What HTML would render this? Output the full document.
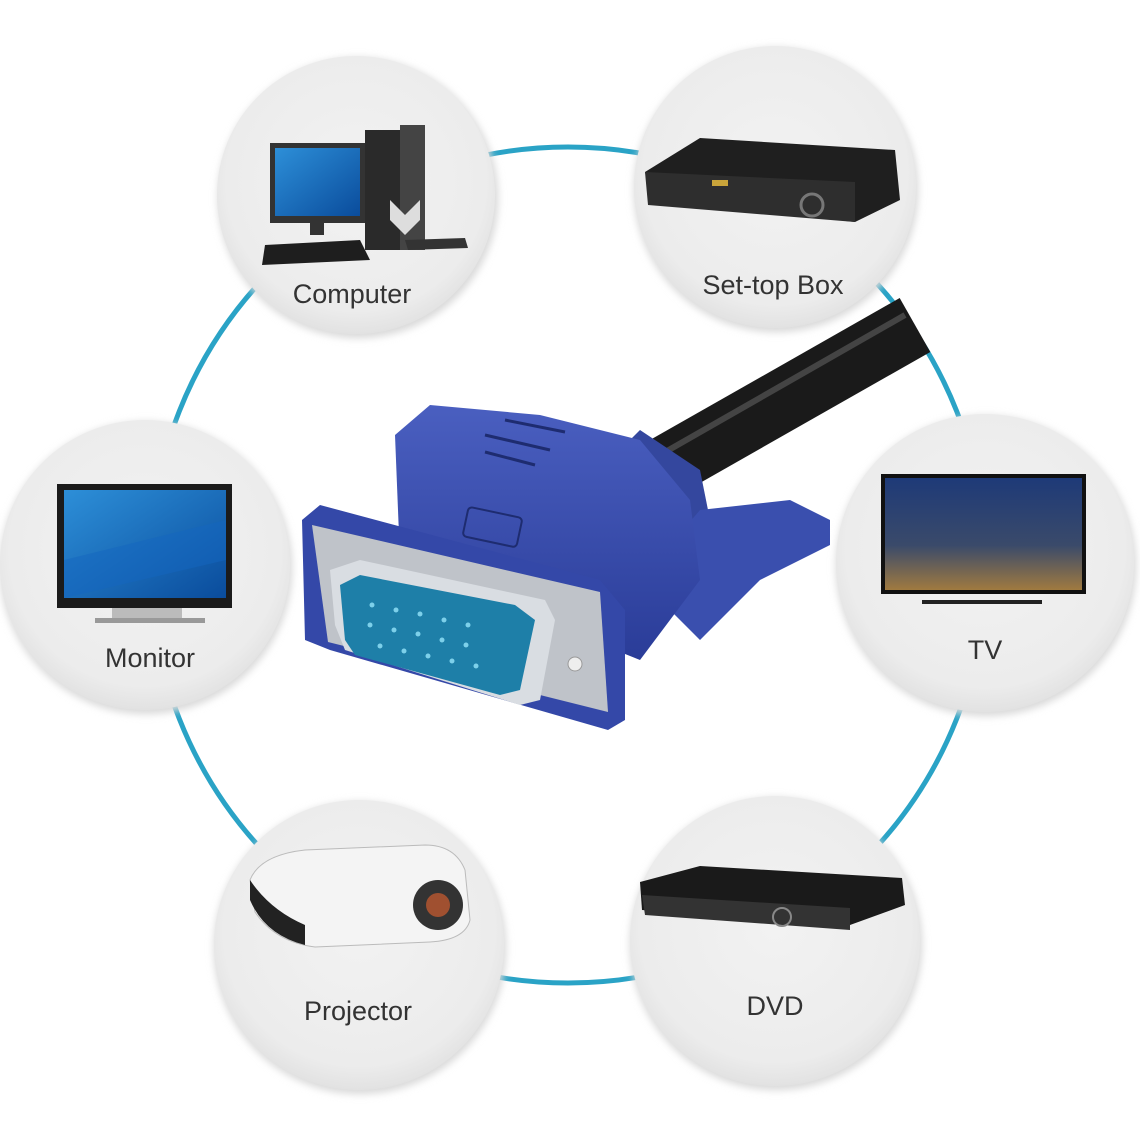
<!DOCTYPE html>
<html><head><meta charset="utf-8"><style>
html,body{margin:0;padding:0;background:#fff;}
svg{display:block;}
text{font-family:"Liberation Sans",sans-serif;fill:#333;text-anchor:middle;}
</style></head><body>
<svg width="1140" height="1140" viewBox="0 0 1140 1140" xmlns="http://www.w3.org/2000/svg">
<defs>
<radialGradient id="cg" cx="50%" cy="45%" r="55%">
<stop offset="0%" stop-color="#f2f2f2"/><stop offset="85%" stop-color="#ececec"/><stop offset="100%" stop-color="#e2e2e2"/>
</radialGradient>
<filter id="sh" x="-20%" y="-20%" width="140%" height="140%"><feGaussianBlur stdDeviation="4"/></filter>
<linearGradient id="scr" x1="0" y1="0" x2="1" y2="1"><stop offset="0" stop-color="#2d8fd8"/><stop offset="1" stop-color="#0a4c9c"/></linearGradient>
<linearGradient id="tv" x1="0" y1="0" x2="0" y2="1"><stop offset="0" stop-color="#1e3a78"/><stop offset="0.6" stop-color="#3a4a6a"/><stop offset="1" stop-color="#a07a40"/></linearGradient>
<linearGradient id="blu" x1="0" y1="0" x2="0" y2="1"><stop offset="0" stop-color="#4a5fc0"/><stop offset="1" stop-color="#2a3c98"/></linearGradient>
</defs>
<!-- ring -->
<circle cx="568" cy="565" r="418" fill="none" stroke="#2aa3c6" stroke-width="5"/>
<!-- circles -->
<g>
<circle cx="358" cy="198" r="140" fill="#d8d8d8" filter="url(#sh)"/>
<circle cx="776" cy="190" r="142" fill="#d8d8d8" filter="url(#sh)"/>
<circle cx="146" cy="568" r="146" fill="#d8d8d8" filter="url(#sh)"/>
<circle cx="986" cy="566" r="150" fill="#d8d8d8" filter="url(#sh)"/>
<circle cx="360" cy="948" r="146" fill="#d8d8d8" filter="url(#sh)"/>
<circle cx="776" cy="944" r="146" fill="#d8d8d8" filter="url(#sh)"/>
</g>
<circle cx="356" cy="195" r="139" fill="url(#cg)"/>
<circle cx="775" cy="187" r="141" fill="url(#cg)"/>
<circle cx="145" cy="565" r="145" fill="url(#cg)"/>
<circle cx="985" cy="563" r="149" fill="url(#cg)"/>
<circle cx="359" cy="945" r="145" fill="url(#cg)"/>
<circle cx="775" cy="941" r="145" fill="url(#cg)"/>

<!-- computer -->
<rect x="270" y="143" width="95" height="80" fill="#333"/>
<rect x="275" y="148" width="85" height="68" fill="url(#scr)"/>
<rect x="310" y="223" width="14" height="12" fill="#333"/>
<rect x="365" y="162" width="0" height="0"/>
<polygon points="366,176 366,176 366,176" fill="#222"/>
<rect x="365" y="130" width="60" height="120" fill="#2a2a2a"/>
<rect x="400" y="125" width="25" height="125" fill="#444"/>
<path d="M390 200 l15 15 l15 -15 v20 l-15 15 l-15 -15z" fill="#ddd"/>
<polygon points="265,245 360,240 370,260 262,265" fill="#1e1e1e"/>
<polygon points="405,240 465,238 468,248 408,250" fill="#333"/>
<text x="352" y="303" font-size="27">Computer</text>

<!-- set-top box -->
<polygon points="645,172 700,138 895,150 900,200 855,222 652,200" fill="#1f1f1f"/>
<polygon points="645,172 855,182 855,222 648,205" fill="#2e2e2e"/>
<circle cx="812" cy="205" r="11" fill="none" stroke="#777" stroke-width="3"/>
<rect x="712" y="180" width="16" height="6" fill="#c9a43a"/>
<text x="773" y="294" font-size="27">Set-top Box</text>

<!-- monitor -->
<rect x="57" y="484" width="175" height="124" fill="#1b1b1b"/>
<rect x="64" y="490" width="162" height="108" fill="url(#scr)"/>
<polygon points="64,560 226,520 226,560 64,598" fill="#1466c0" opacity="0.5"/>
<rect x="112" y="608" width="70" height="10" fill="#bbb"/>
<rect x="95" y="618" width="110" height="5" fill="#999"/>
<text x="150" y="667" font-size="27">Monitor</text>

<!-- TV -->
<rect x="881" y="474" width="205" height="120" fill="#111"/>
<rect x="885" y="478" width="197" height="112" fill="url(#tv)"/>
<rect x="922" y="600" width="120" height="4" fill="#222"/>
<text x="985" y="659" font-size="27">TV</text>

<!-- projector -->
<path d="M250 880 q10 -25 55 -30 l120 -5 q30 0 40 25 l5 50 q-5 20 -40 22 l-115 5 q-40 -5 -60 -35z" fill="#f4f4f4" stroke="#bbb"/>
<path d="M250 880 q20 30 55 45 l0 20 q-40 -10 -55 -45z" fill="#222"/>
<circle cx="438" cy="905" r="25" fill="#333"/>
<circle cx="438" cy="905" r="12" fill="#a05030"/>
<text x="358" y="1020" font-size="27">Projector</text>

<!-- DVD -->
<polygon points="640,882 700,866 902,878 905,905 850,925 642,910" fill="#1a1a1a"/>
<polygon points="642,895 850,908 850,930 645,915" fill="#333"/>
<circle cx="782" cy="917" r="9" fill="none" stroke="#888" stroke-width="2"/>
<text x="775" y="1015" font-size="27">DVD</text>

<!-- cable -->
<line x1="660" y1="470" x2="915" y2="325" stroke="#1a1a1a" stroke-width="62" stroke-linecap="butt"/>
<line x1="660" y1="455" x2="905" y2="315" stroke="#444" stroke-width="6"/>
<!-- strain relief -->
<polygon points="600,470 640,430 700,470 710,520 660,540" fill="#34479e"/>
<!-- screw -->
<polygon points="640,580 700,510 790,500 830,520 830,545 760,580 700,640" fill="#3a4fae"/>
<!-- body -->
<polygon points="395,435 430,405 540,415 640,440 690,500 700,580 640,660 540,620 400,560" fill="url(#blu)"/>
<line x1="485" y1="435" x2="550" y2="450" stroke="#1e2c70" stroke-width="3"/>
<line x1="505" y1="420" x2="565" y2="432" stroke="#1e2c70" stroke-width="3"/>
<line x1="485" y1="452" x2="535" y2="465" stroke="#1e2c70" stroke-width="3"/>
<rect x="465" y="512" width="55" height="30" rx="4" fill="none" stroke="#1e2c70" stroke-width="2" transform="rotate(12 492 527)"/>
<!-- front plate -->
<polygon points="302,520 320,505 600,580 625,610 625,720 608,730 330,650 305,640" fill="#3448a8"/>
<polygon points="312,525 600,592 608,712 328,642" fill="#bfc3c9"/>
<polygon points="330,570 360,560 545,600 555,620 540,700 520,705 345,650 335,625" fill="#d9dde2"/>
<polygon points="340,585 360,575 515,605 535,620 520,690 500,695 355,655 345,640" fill="#1e7fa8"/>
<g fill="#7dd0ea">
<circle cx="372" cy="605" r="2.5"/><circle cx="396" cy="610" r="2.5"/><circle cx="420" cy="614" r="2.5"/><circle cx="444" cy="620" r="2.5"/><circle cx="468" cy="625" r="2.5"/>
<circle cx="370" cy="625" r="2.5"/><circle cx="394" cy="630" r="2.5"/><circle cx="418" cy="634" r="2.5"/><circle cx="442" cy="640" r="2.5"/><circle cx="466" cy="645" r="2.5"/>
<circle cx="380" cy="646" r="2.5"/><circle cx="404" cy="651" r="2.5"/><circle cx="428" cy="656" r="2.5"/><circle cx="452" cy="661" r="2.5"/><circle cx="476" cy="666" r="2.5"/>
</g>
<circle cx="575" cy="664" r="7" fill="#eee" stroke="#999"/>
</svg>
</body></html>
